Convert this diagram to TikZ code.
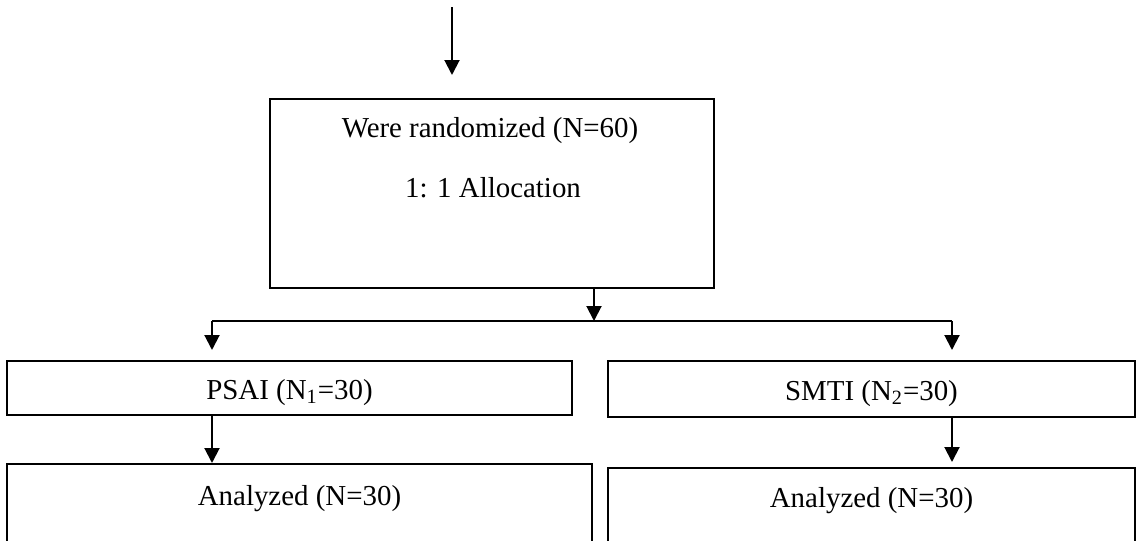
\documentclass[tikz,border=0pt]{standalone}
\usepackage{fontspec}
\setmainfont{Liberation Serif}
\usetikzlibrary{arrows.meta}
\begin{document}
\begin{tikzpicture}[x=0.5pt,y=-0.5pt,
  box/.style={draw,line width=1pt,rectangle,inner sep=0pt},
  lbl/.style={anchor=base,inner sep=0pt,font=\fontsize{14.45}{17}\selectfont},
  conn/.style={line width=1pt},
  arr/.style={conn,-{Triangle[length=7.5pt,width=7.5pt]}}]
\useasboundingbox (0,0) rectangle (1136,541);
\clip (0,0) rectangle (1136,541);
% boxes
\node[box,minimum width=222pt,minimum height=94.5pt] (rand) at (492,193.5) {};
\node[box,minimum width=282.5pt,minimum height=27pt] (psai) at (289.5,388) {};
\node[box,minimum width=263.5pt,minimum height=28pt] (smti) at (871.5,389) {};
\node[box,minimum width=292.5pt,minimum height=48pt] (anl) at (299.5,512) {};
\node[box,minimum width=263.5pt,minimum height=46pt] (anr) at (871.5,514) {};
% texts
\node[lbl] (t1) at (490,137) {Were randomized (N=60)};
\node[lbl] (t2) at (493,197) {1: 1 Allocation};
\node[lbl] (tp) at (289.5,399) {PSAI (N\textsubscript{1}=30)};
\node[lbl] (ts) at (871.5,400) {SMTI (N\textsubscript{2}=30)};
\node[lbl] (tal) at (299.5,505) {Analyzed (N=30)};
\node[lbl] (tar) at (871.5,507) {Analyzed (N=30)};
% connectors
\coordinate (topin) at (452,7);
\coordinate (split) at (594,321);
\coordinate (L) at (212,321);
\coordinate (R) at (952,321);
\draw[arr,shorten >=11.5pt] (topin) -- (topin |- rand.north);
\draw[arr] (rand.south -| split) -- (split);
\draw[conn] (L) -- (R);
\draw[arr,shorten >=5pt] (L) -- (L |- psai.north);
\draw[arr,shorten >=5pt] (R) -- (R |- smti.north);
\draw[arr] (psai.south -| L) -- (L |- anl.north);
\draw[arr,shorten >=2.5pt] (smti.south -| R) -- (R |- anr.north);
\end{tikzpicture}
\end{document}
